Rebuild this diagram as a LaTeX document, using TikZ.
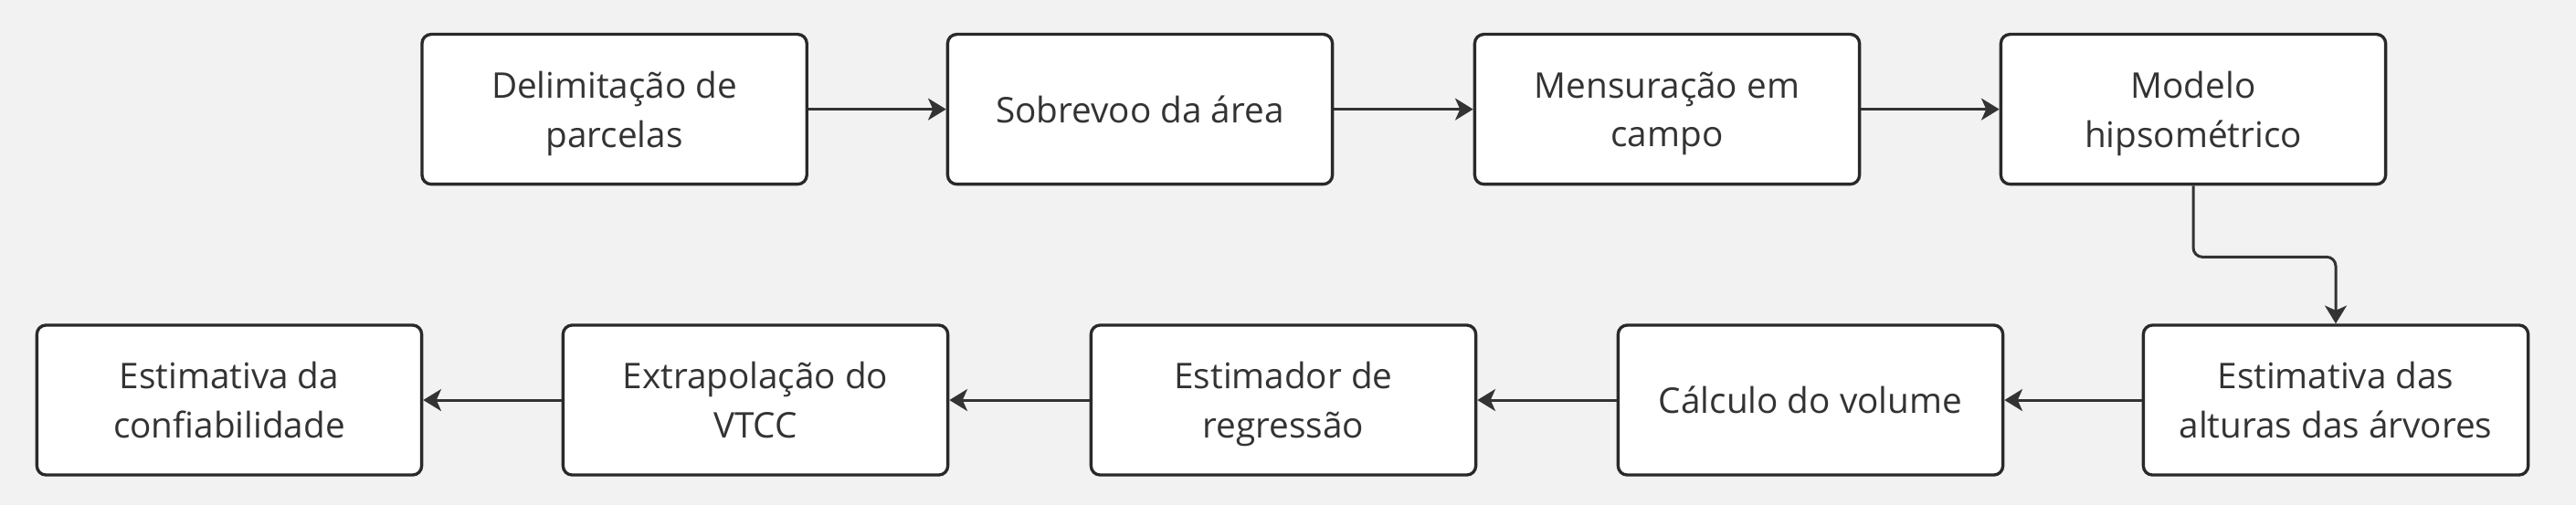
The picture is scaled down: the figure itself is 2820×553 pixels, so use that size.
\documentclass[tikz,border=0pt]{standalone}
\usepackage{fontspec}
\setmainfont{Open Sans}
\usetikzlibrary{arrows.meta}
\definecolor{bgc}{HTML}{F2F2F2}
\definecolor{linec}{HTML}{333333}
\tikzset{
  etapa/.style={rectangle, rounded corners=0.1cm, draw=linec!80!black, line width=0.95pt,
    fill=white, minimum width=4.21cm, minimum height=1.64cm, align=center,
    text depth=0pt, text=linec, font=\fontsize{11}{15.2}\selectfont},
  fluxo/.style={draw=linec, line width=0.85pt, -{Stealth[length=5.6pt,width=6.8pt,inset=1.5pt]}}
}
\begin{document}
\begin{tikzpicture}[x=0.01cm, y=0.01cm]
\fill [bgc] (0,0) rectangle (2820,-553);
\useasboundingbox (0,0) rectangle (2820,-553);
% linha de cima
\node [etapa] (delim) at (672.6,-119.6) {Delimitação de\\parcelas};
\node [etapa] (sobrevoo) at (1248,-119.6) {Sobrevoo da área};
\node [etapa] (mensur) at (1825,-119.6) {Mensuração em\\campo};
\node [etapa] (modelo) at (2401,-119.6) {Modelo\\hipsométrico};
% linha de baixo
\node [etapa] (alturas) at (2557,-438) {Estimativa das\\alturas das árvores};
\node [etapa] (volume) at (1982,-438) {Cálculo do volume};
\node [etapa] (estimador) at (1405,-438) {Estimador de\\regressão};
\node [etapa] (extrap) at (827,-438) {Extrapolação do\\VTCC};
\node [etapa] (confiab) at (251,-438) {Estimativa da\\confiabilidade};
% conectores
\draw [fluxo] (delim) -- (sobrevoo);
\draw [fluxo] (sobrevoo) -- (mensur);
\draw [fluxo] (mensur) -- (modelo);
\draw [fluxo, rounded corners=0.1cm] (modelo.south) -- ++(0,-78) -| (alturas.north);
\draw [fluxo] (alturas) -- (volume);
\draw [fluxo] (volume) -- (estimador);
\draw [fluxo] (estimador) -- (extrap);
\draw [fluxo] (extrap) -- (confiab);
\end{tikzpicture}
\end{document}
